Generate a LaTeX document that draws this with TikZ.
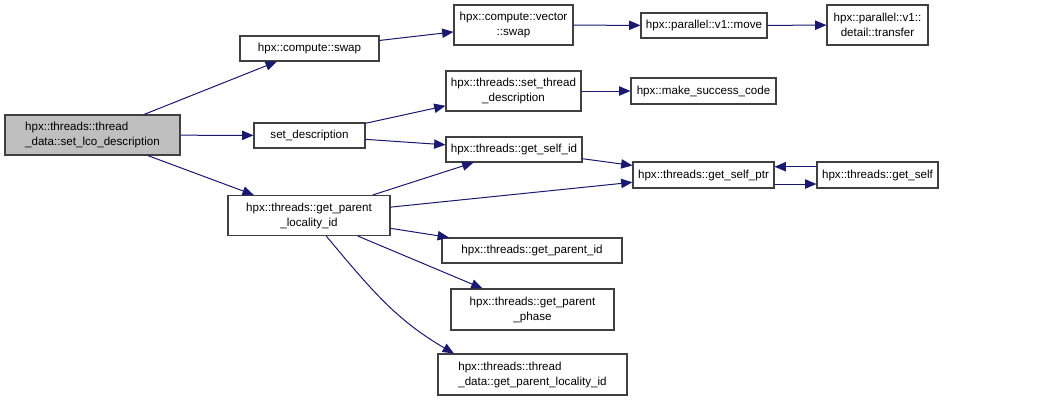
\documentclass[tikz,border=0pt]{standalone}
\usepackage{fontspec}
\setmainfont{Liberation Sans}
\usetikzlibrary{arrows.meta}
\definecolor{edge}{HTML}{191970}
\definecolor{mainfill}{HTML}{BFBFBF}
\begin{document}
\begin{tikzpicture}[x=0.75pt,y=-0.75pt,
  box/.style={draw=black!75, line width=0.8pt, fill=white, inner sep=0pt,
    font=\fontsize{8.7pt}{11.25pt}\selectfont, align=center},
  sz/.style 2 args={minimum width=#1, minimum height=#2},
  call/.style={draw=edge, line width=0.75pt, -{Triangle[length=8.5pt,width=7pt]}, color=edge}]
\useasboundingbox (0,0) rectangle (1049,401);
\node[box, fill=mainfill, align=left, sz={131.25pt}{30pt}] (main) at (92.5,135) {hpx::threads::thread\\\_data::set\_lco\_description};
\node[box, sz={104.25pt}{18.75pt}] (cswap) at (309.5,48.5) {hpx::compute::swap};
\node[box, sz={83.25pt}{18.75pt}] (setd) at (309.5,135.5) {set\_description};
\node[box, sz={121.5pt}{30pt}] (gpl) at (309,215.5) {hpx::threads::get\_parent\\\_locality\_id};
\node[box, sz={89.25pt}{30pt}] (vswap) at (513.5,25) {hpx::compute::vector\\::swap};
\node[box, sz={94.5pt}{18.75pt}] (move) at (704,25.5) {hpx::parallel::v1::move};
\node[box, sz={75.75pt}{30pt}] (transfer) at (877.5,25) {hpx::parallel::v1::\\detail::transfer};
\node[box, sz={101.25pt}{30pt}] (std) at (513.5,91) {hpx::threads::set\_thread\\\_description};
\node[box, sz={108.75pt}{19.5pt}] (msc) at (703.5,91) {hpx::make\_success\_code};
\node[box, sz={102pt}{18.75pt}] (gsid) at (514,149.5) {hpx::threads::get\_self\_id};
\node[box, sz={105.75pt}{19.5pt}] (gsp) at (703.5,175) {hpx::threads::get\_self\_ptr};
\node[box, sz={90.75pt}{19.5pt}] (gs) at (877.5,175) {hpx::threads::get\_self};
\node[box, sz={135pt}{18.75pt}] (gpid) at (532,250.5) {hpx::threads::get\_parent\_id};
\node[box, sz={122.25pt}{30.75pt}] (gpp) at (532.5,309.5) {hpx::threads::get\_parent\\\_phase};
\node[box, align=left, sz={141.75pt}{30.75pt}] (tdgpl) at (532.5,374.5) {hpx::threads::thread\\\_data::get\_parent\_locality\_id};

\draw[call] (main) -- (cswap);
\draw[call] (main) -- (setd);
\draw[call] (main) -- (gpl);
\draw[call] (cswap) -- (vswap);
\draw[call] (vswap) -- (move);
\draw[call] (move) -- (transfer);
\draw[call] (setd) -- (std);
\draw[call] (setd) -- (gsid);
\draw[call] (std) -- (msc);
\draw[call] (gsid) -- (gsp);
\draw[call] (gpl) -- (gsid);
\draw[call] (gpl) -- (gsp);
\draw[call] ([yshift=-6.75pt]gsp.east) -- ([yshift=-6.75pt]gs.west);
\draw[call] ([yshift=6.2pt]gs.west) -- ([yshift=6.2pt]gsp.east);
\draw[call] (gpl) -- (gpid);
\draw[call] (gpl) -- (gpp);
\draw[call] (gpl.-50) to[out=-50,in=150] (tdgpl.165);
\end{tikzpicture}
\end{document}
